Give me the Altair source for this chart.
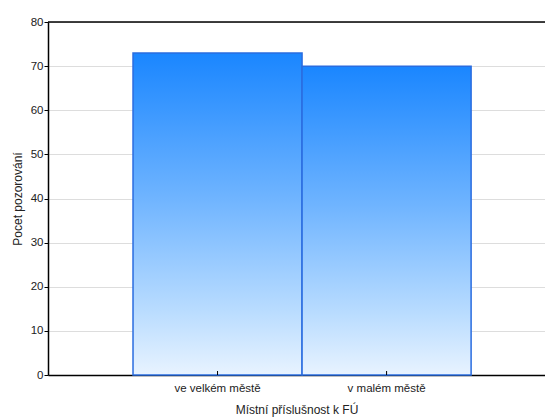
import altair as alt
import pandas as pd

# Počet pozorování podle místní příslušnosti k FÚ
categories = ["ve velkém městě", "v malém městě"]
counts = [73, 70]

df = pd.DataFrame({"kategorie": categories, "pocet": counts})

FONT = "Liberation Sans"

x_enc = alt.X(
    "kategorie:N",
    sort=categories,
    scale=alt.Scale(paddingInner=0, paddingOuter=0.47, align=0.535),
    axis=alt.Axis(
        title="Místní příslušnost k FÚ",
        labelAngle=0,
        labelFontSize=11.5,
        labelColor="#222222",
        labelPadding=7,
        titleFontSize=12,
        titleFontWeight="normal",
        titleColor="#222222",
        titlePadding=11,
        domainColor="#000000",
        domainWidth=1.5,
        ticks=False,
        grid=False,
    ),
)

y_scale = alt.Scale(domain=[0, 80], nice=False)

bars = (
    alt.Chart(df)
    .mark_bar(
        color=alt.Gradient(
            gradient="linear",
            stops=[
                alt.GradientStop(color="#1a86ff", offset=0),
                alt.GradientStop(color="#6fb4ff", offset=0.45),
                alt.GradientStop(color="#b9dcff", offset=0.8),
                alt.GradientStop(color="#e8f3ff", offset=1),
            ],
            x1=0, x2=0, y1=0, y2=1,
        ),
        stroke="#2a6de0",
        strokeWidth=1.5,
    )
    .encode(
        x=x_enc,
        y=alt.Y(
            "pocet:Q",
            scale=y_scale,
            axis=alt.Axis(
                title="Pocet pozorování",
                values=[0, 10, 20, 30, 40, 50, 60, 70, 80],
                labelFontSize=11.5,
                labelColor="#222222",
                labelPadding=1,
                titleFontSize=12,
                titleFontWeight="normal",
                titleColor="#222222",
                titlePadding=6,
                domainColor="#000000",
                domainWidth=1.5,
                tickColor="#000000",
                tickSize=4,
                gridColor="#dddddd",
                gridWidth=1,
            ),
        ),
    )
)

# small category ticks pointing up from the baseline
cat_ticks = (
    alt.Chart(df)
    .mark_rule(color="#000000", strokeWidth=1)
    .encode(
        x=alt.X("kategorie:N", sort=categories),
        y=alt.value(349),
        y2=alt.value(353),
    )
)

# top frame line
top_line = (
    alt.Chart(pd.DataFrame({"v": [80]}))
    .mark_rule(color="#000000", strokeWidth=1.5)
    .encode(y=alt.Y("v:Q", scale=y_scale))
)

chart = (
    alt.layer(bars, cat_ticks, top_line)
    .properties(
        width=497,
        height=353,
        autosize=alt.AutoSizeParams(type="none"),
        padding={"left": 48, "top": 22, "right": 0, "bottom": 42},
    )
    .configure(font=FONT)
    .configure_view(stroke=None)
)

chart.save("out.html", embed_options={"renderer": "svg", "actions": False})
